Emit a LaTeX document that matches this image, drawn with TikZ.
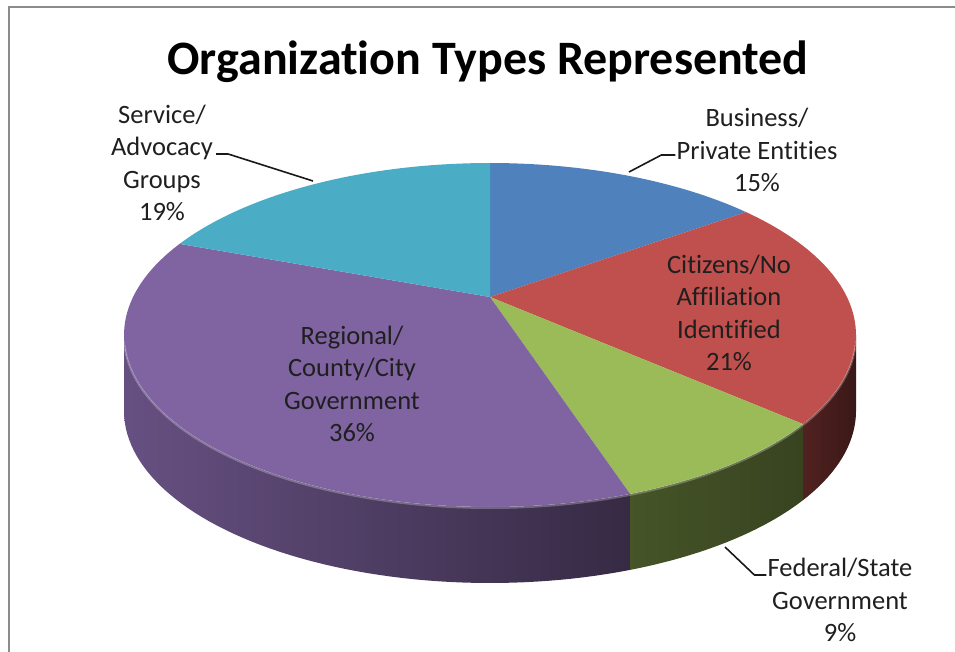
\documentclass[tikz,border=0pt]{standalone}
\usepackage{fontspec}
\setmainfont{Carlito}[Ligatures=NoCommon]
\definecolor{bizblue}{HTML}{4F81BD}
\definecolor{citred}{HTML}{C0504D}
\definecolor{fedgreen}{HTML}{9BBB59}
\definecolor{regpurple}{HTML}{8064A2}
\definecolor{svcteal}{HTML}{4BACC6}
\begin{document}
\begin{tikzpicture}[x=1pt, y=-1pt,
  lbl/.style={align=center, inner sep=0pt, text=black!88, font=\fontsize{26.5}{32.5}\selectfont},
  leader/.style={draw=black!90, line width=1.6pt}]

\useasboundingbox (0,0) rectangle (955,652);
\draw[black!45, line width=2pt] (9,652) -- (9,7) -- (955,7);

\coordinate (apex) at (490,297);

% sides of the pie
\shade[left color=regpurple!80!black, right color=regpurple!42!black] plot[domain=180:292.5, samples=60] ({490+366*cos(\x)},{335-172*sin(\x)}) -- plot[domain=292.5:180, samples=60] ({490+366*cos(\x)},{411-172*sin(\x)}) -- cycle;
\shade[left color=fedgreen!45!black, right color=fedgreen!36!black] plot[domain=292.5:328.8, samples=30] ({490+366*cos(\x)},{335-172*sin(\x)}) -- plot[domain=328.8:292.5, samples=30] ({490+366*cos(\x)},{411-172*sin(\x)}) -- cycle;
\shade[left color=citred!42!black, right color=citred!30!black] plot[domain=328.8:360, samples=30] ({490+366*cos(\x)},{335-172*sin(\x)}) -- plot[domain=360:328.8, samples=30] ({490+366*cos(\x)},{411-172*sin(\x)}) -- cycle;

% top of the pie
\fill[bizblue] (apex) -- plot[domain=90:45.6, samples=40] ({490+366*cos(\x)},{335-172*sin(\x)}) -- cycle;
\fill[citred] (apex) -- plot[domain=45.6:-31.2, samples=60] ({490+366*cos(\x)},{335-172*sin(\x)}) -- cycle;
\fill[fedgreen] (apex) -- plot[domain=-31.2:-67.5, samples=30] ({490+366*cos(\x)},{335-172*sin(\x)}) -- cycle;
\fill[regpurple] (apex) -- plot[domain=-67.5:-212, samples=90] ({490+366*cos(\x)},{335-172*sin(\x)}) -- cycle;
\fill[svcteal] (apex) -- plot[domain=148:90, samples=40] ({490+366*cos(\x)},{335-172*sin(\x)}) -- cycle;
\draw[white, opacity=0.25, line width=2pt] plot[domain=183:357, samples=90] ({490+366*cos(\x)},{336-172*sin(\x)});

\node at (488,62) [font=\fontsize{48}{58}\selectfont\bfseries] (title) {Organization Types Represented};

\node at (162,163) [lbl] (service) {Service/\\Advocacy\\Groups\\19\%};
\node at (757,150) [lbl] (business) {Business/\\Private Entities\\15\%};
\node at (729,313) [lbl] (citizens) {Citizens/No\\Affiliation\\Identified\\21\%};
\node at (352,384) [lbl] (regional) {Regional/\\County/City\\Government\\36\%};
\node at (840,600) [lbl] (federal) {Federal/State\\Government\\9\%};

\coordinate (servicetip) at (313,181);
\coordinate (businesstip) at (629,172);
\coordinate (federaltip) at (725,547);

\draw[leader] ([xshift=3pt, yshift=9pt]service.east) -- ++(12,0) -- (servicetip);
\draw[leader] ([xshift=-1pt, yshift=-5pt]business.west) -- ++(-14,0) -- (businesstip);
\draw[leader] ([xshift=-1pt, yshift=25pt]federal.west) -- ++(-12,0) -- (federaltip);

\end{tikzpicture}
\end{document}
